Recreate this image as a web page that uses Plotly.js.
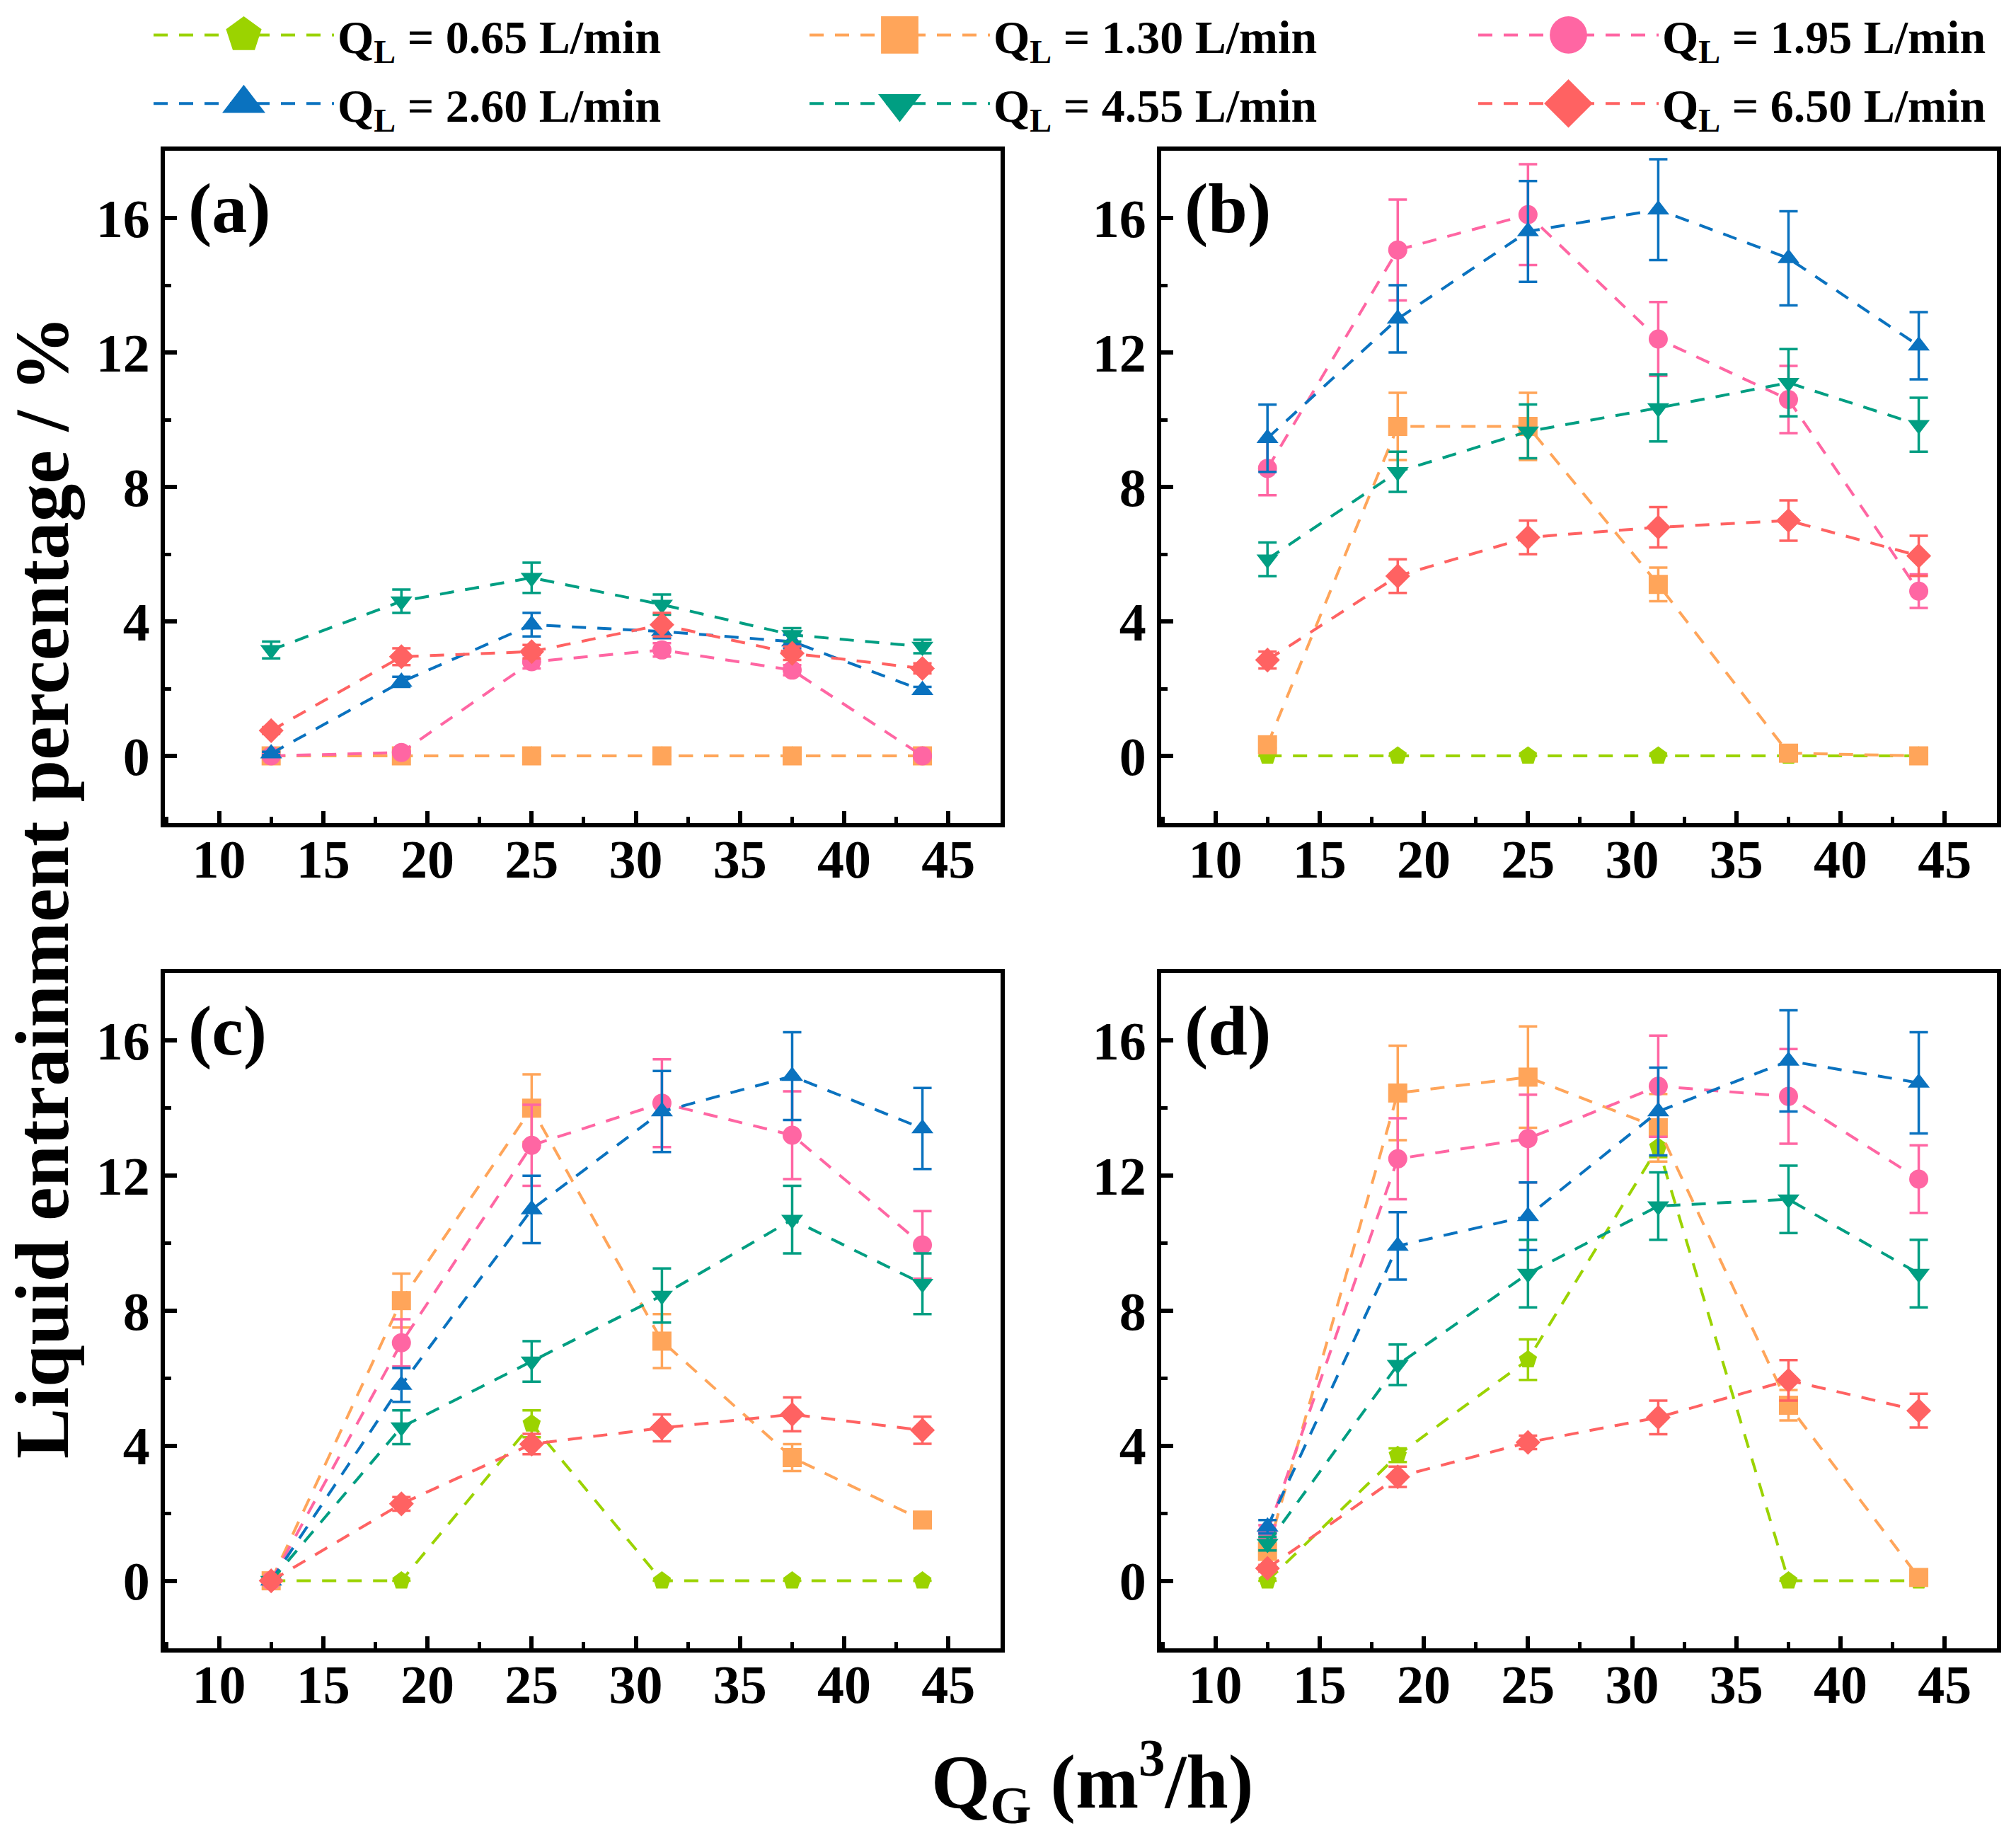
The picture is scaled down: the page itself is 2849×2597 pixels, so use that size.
<!DOCTYPE html>
<html>
<head>
<meta charset="utf-8">
<script src="https://cdn.plot.ly/plotly-3.0.1.min.js"></script>
<style>
  html, body { margin: 0; padding: 0; background: #fff; }
  #chart { width: 2849px; height: 2597px; }
</style>
</head>
<body>
<div id="chart"></div>
<script>
// Gas flow rate Q_G (m3/h), same for all panels
const qg = [12.5, 18.75, 25, 31.25, 37.5, 43.75];

const seriesNames = ['0.65', '1.30', '1.95', '2.60', '4.55', '6.50'];
const seriesColors = ['#9BD300', '#FFA55A', '#FF66A3', '#0A72BF', '#009E82', '#FF6262'];
const seriesSymbols = ['pentagon', 'square', 'circle', 'triangle-up', 'triangle-down', 'diamond'];

// panel (a)
const a065 = [0, 0, 0, 0, 0, 0];
const a130 = [0, 0, 0, 0, 0, 0];
const a195 = [0, 0.1, 2.8, 3.15, 2.55, 0];
const a260 = [0.07, 2.2, 3.9, 3.7, 3.4, 1.95];
const a455 = [3.15, 4.6, 5.3, 4.5, 3.6, 3.25];
const a650 = [0.75, 2.95, 3.1, 3.9, 3.05, 2.6];
const ea065 = [0, 0, 0, 0, 0, 0];
const ea130 = [0, 0, 0, 0, 0, 0];
const ea195 = [0, 0.05, 0.2, 0.2, 0.15, 0];
const ea260 = [0.05, 0.15, 0.35, 0.2, 0.2, 0.1];
const ea455 = [0.25, 0.35, 0.45, 0.3, 0.2, 0.2];
const ea650 = [0.1, 0.25, 0.2, 0.35, 0.2, 0.15];

// panel (b)
const b065 = [0, 0, 0, 0, 0, 0];
const b130 = [0.33, 9.8, 9.8, 5.1, 0.08, 0];
const b195 = [8.55, 15.05, 16.1, 12.4, 10.6, 4.9];
const b260 = [9.45, 13.0, 15.6, 16.25, 14.8, 12.2];
const b455 = [5.85, 8.45, 9.65, 10.35, 11.1, 9.85];
const b650 = [2.85, 5.35, 6.5, 6.8, 7.0, 5.95];
const eb065 = [0, 0, 0, 0, 0, 0];
const eb130 = [0.1, 1.0, 1.0, 0.5, 0.05, 0];
const eb195 = [0.8, 1.5, 1.5, 1.1, 1.0, 0.5];
const eb260 = [1.0, 1.0, 1.5, 1.5, 1.4, 1.0];
const eb455 = [0.5, 0.6, 0.8, 1.0, 1.0, 0.8];
const eb650 = [0.25, 0.5, 0.5, 0.6, 0.6, 0.6];

// panel (c)
const c065 = [0, 0, 4.65, 0, 0, 0];
const c130 = [0, 8.3, 14.0, 7.1, 3.65, 1.8];
const c195 = [0, 7.05, 12.9, 14.15, 13.2, 9.95];
const c260 = [0, 5.8, 11.0, 13.9, 14.95, 13.4];
const c455 = [0, 4.55, 6.5, 8.45, 10.7, 8.8];
const c650 = [0, 2.28, 4.05, 4.53, 4.93, 4.46];
const ec065 = [0, 0, 0.4, 0, 0, 0];
const ec130 = [0, 0.8, 1.0, 0.8, 0.4, 0.1];
const ec195 = [0, 0.7, 1.2, 1.3, 1.3, 1.0];
const ec260 = [0, 0.5, 1.0, 1.2, 1.3, 1.2];
const ec455 = [0, 0.5, 0.6, 0.8, 1.0, 0.9];
const ec650 = [0.05, 0.2, 0.3, 0.4, 0.5, 0.4];

// panel (d)
const d065 = [0, 3.72, 6.55, 12.85, 0, 0];
const d130 = [0.87, 14.45, 14.92, 13.42, 5.2, 0.1];
const d195 = [1.45, 12.5, 13.1, 14.65, 14.35, 11.9];
const d260 = [1.6, 9.92, 10.8, 13.9, 15.4, 14.75];
const d455 = [1.1, 6.4, 9.1, 11.1, 11.3, 9.1];
const d650 = [0.37, 3.08, 4.1, 4.84, 5.94, 5.04];
const ed065 = [0, 0.2, 0.6, 0.3, 0, 0];
const ed130 = [0.2, 1.4, 1.5, 1.0, 0.45, 0.05];
const ed195 = [0.2, 1.2, 1.3, 1.5, 1.4, 1.0];
const ed260 = [0.2, 1.0, 1.0, 1.3, 1.5, 1.5];
const ed455 = [0.2, 0.6, 1.0, 1.0, 1.0, 1.0];
const ed650 = [0.1, 0.3, 0.2, 0.5, 0.6, 0.5];

const panels = [
    { label: '(a)', ys: [a065, a130, a195, a260, a455, a650], es: [ea065, ea130, ea195, ea260, ea455, ea650] },
    { label: '(b)', ys: [b065, b130, b195, b260, b455, b650], es: [eb065, eb130, eb195, eb260, eb455, eb650] },
    { label: '(c)', ys: [c065, c130, c195, c260, c455, c650], es: [ec065, ec130, ec195, ec260, ec455, ec650] },
    { label: '(d)', ys: [d065, d130, d195, d260, d455, d650], es: [ed065, ed130, ed195, ed260, ed455, ed650] },
];

const W = 2849, H = 2597;
const FONT = 'Liberation Serif, Times New Roman, serif';

// panel frames in pixels: [left, right, top, bottom]
const colsPx = [[233, 1414], [1641, 2822]];
const rowsPx = [[213, 1163], [1375, 2329]];
// legend is three columns of two entries each
const legendIds = ['legend', 'legend2', 'legend3'];
const legendColPx = [212, 1139, 2084];

const traces = [];
panels.forEach((p, pi) => {
    const ax = pi === 0 ? '' : String(pi + 1);
    p.ys.forEach((y, si) => {
        traces.push({
            x: qg, y: y, type: 'scatter', mode: 'lines+markers',
            xaxis: 'x' + ax, yaxis: 'y' + ax,
            name: '<b>Q<sub>L</sub> = ' + seriesNames[si] + ' L/min</b>',
            legend: legendIds[si % 3], legendgroup: 'q' + si, showlegend: pi === 0,
            line: { color: seriesColors[si], width: 4, dash: '20px,16px' },
            marker: { color: seriesColors[si], symbol: seriesSymbols[si], size: 27 },
            error_y: { type: 'data', array: p.es[si], visible: true, color: seriesColors[si], thickness: 3.5, width: 13 },
        });
    });
});

function axisStyle(isX, domain, anchor) {
    const a = {
        domain: domain, anchor: anchor,
        showline: true, mirror: true, linewidth: 6, linecolor: '#000',
        showgrid: false, zeroline: false,
        ticks: 'inside', ticklen: 17, tickwidth: 6, tickcolor: '#000',
        tickfont: { family: FONT, size: 76, color: '#000', weight: 'bold' },
    };
    if (isX) {
        Object.assign(a, { range: [7.4, 47.5], tick0: 10, dtick: 5, ticklabelstandoff: -20,
            minor: { ticks: 'inside', ticklen: 9, tickwidth: 5, tickcolor: '#000', dtick: 2.5 } });
    } else {
        Object.assign(a, { range: [-2, 18], tick0: 0, dtick: 4,
            minor: { ticks: 'inside', ticklen: 9, tickwidth: 5, tickcolor: '#000', dtick: 2 } });
    }
    return a;
}

const layout = {
    width: W, height: H,
    margin: { l: 0, r: 0, t: 0, b: 0 },
    paper_bgcolor: '#fff', plot_bgcolor: '#fff',
    font: { family: FONT, color: '#000' },
    showlegend: true,
    annotations: [],
};

legendIds.forEach((id, li) => {
    layout[id] = {
        orientation: 'v', x: legendColPx[li] / W, y: 1, xanchor: 'left', yanchor: 'top',
        font: { family: FONT, size: 66, color: '#000' },
        itemwidth: 255, itemsizing: 'trace', tracegroupgap: 8,
        bgcolor: 'rgba(0,0,0,0)', borderwidth: 0,
    };
});

panels.forEach((p, pi) => {
    const ax = pi === 0 ? '' : String(pi + 1);
    const c = colsPx[pi % 2], r = rowsPx[Math.floor(pi / 2)];
    const xd = [c[0] / W, c[1] / W];
    const yd = [1 - r[1] / H, 1 - r[0] / H];
    layout['xaxis' + ax] = axisStyle(true, xd, 'y' + ax);
    layout['yaxis' + ax] = axisStyle(false, yd, 'x' + ax);
    layout.annotations.push({
        text: '<b>' + p.label + '</b>', xref: 'x' + ax + ' domain', yref: 'y' + ax + ' domain',
        x: 0.026, y: 0.975, xanchor: 'left', yanchor: 'top', showarrow: false,
        font: { family: FONT, size: 100, color: '#000' },
    });
});

layout.annotations.push({
    text: '<b>Liquid entrainment percentage / %</b>', textangle: -90,
    xref: 'paper', yref: 'paper', x: 60 / W, y: 1 - 1254 / H, xanchor: 'center', yanchor: 'middle',
    showarrow: false, font: { family: FONT, size: 107, color: '#000' },
});
layout.annotations.push({
    text: '<b>Q<sub>G</sub> (m<sup>3</sup>/h)</b>',
    xref: 'paper', yref: 'paper', x: 1544 / W, y: 1 - 2517 / H, xanchor: 'center', yanchor: 'middle',
    showarrow: false, font: { family: FONT, size: 107, color: '#000' },
});

Plotly.newPlot('chart', traces, layout, { displayModeBar: false, staticPlot: true }).then(gd => {
    // legend markers are capped at 16px by plotly; enlarge them to match the figure
    gd.querySelectorAll('.legendpoints path.scatterpts').forEach(p => {
        const t = p.getAttribute('transform') || '';
        p.setAttribute('transform', t + ' scale(3.3)');
    });
});
</script>
</body>
</html>
